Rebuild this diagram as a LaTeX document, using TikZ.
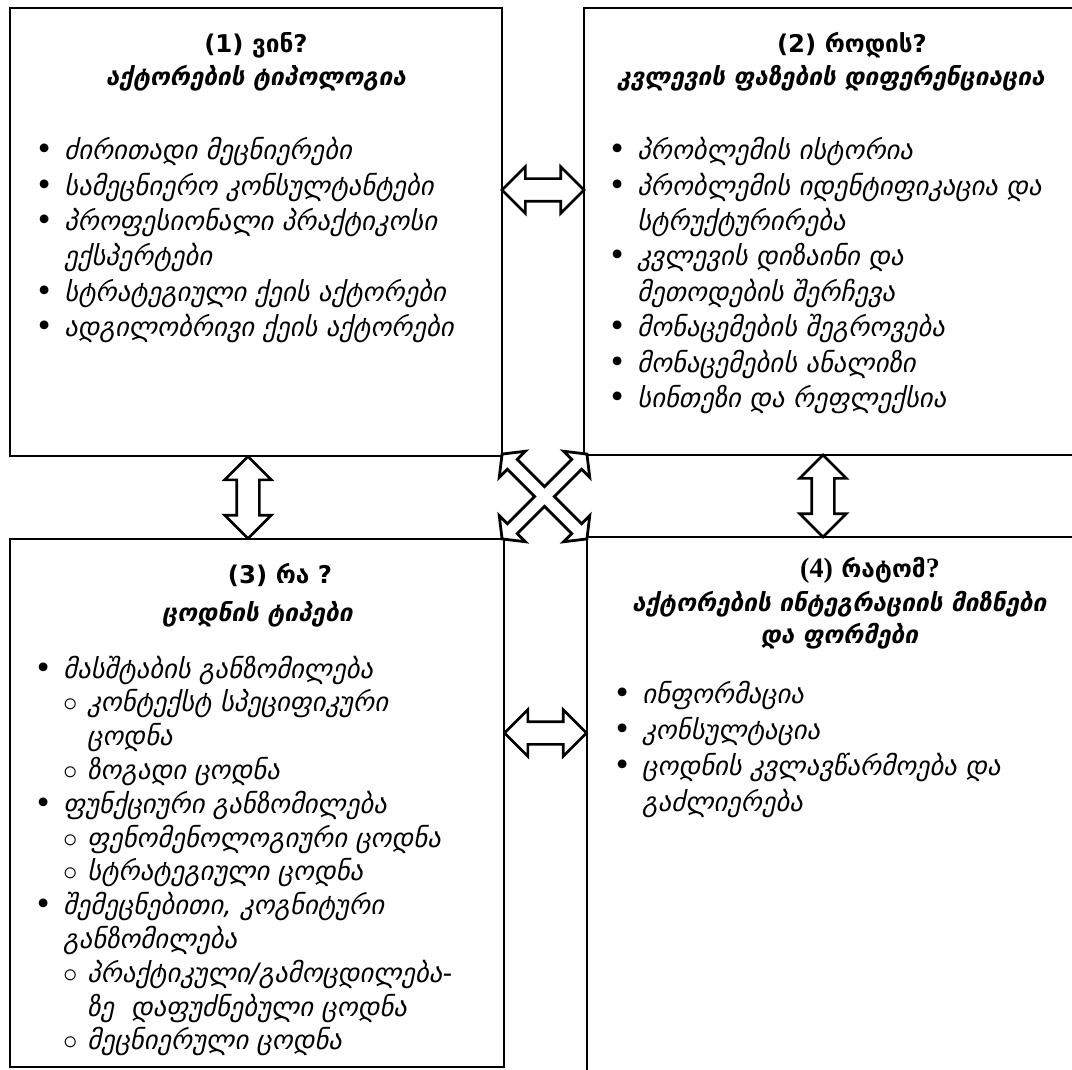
\documentclass[tikz,border=0pt]{standalone}
\usepackage{fontspec}
\setmainfont{DejaVu Sans}
\newfontfamily\numfont{Liberation Serif}
\usetikzlibrary{positioning,calc,shapes.arrows}
\tikzset{box/.style = {draw,line width=0.8pt,anchor=north west,inner sep=0pt,outer sep=0pt}}
\tikzset{title/.style = {font=\fontsize{12.2}{15}\selectfont\bfseries,inner sep=0pt}}
\tikzset{items/.style = {font=\fontsize{13.3}{17.7}\selectfont\itshape,align=left,anchor=north west,inner sep=0pt}}
\tikzset{dblarrow/.style = {double arrow,draw,line width=1.35pt,fill=white,inner xsep=0pt,inner ysep=5pt,double arrow head extend=6pt,minimum height=41pt}}
\tikzset{crossarrow/.style = {draw,line width=1.4pt,fill=white,line join=miter}}
\newcommand{\bul}{\makebox[14.5pt][l]{\fontsize{15}{0}\selectfont\textbullet}}
\newcommand{\cont}{\hspace*{14.5pt}}
\newcommand{\subbul}{\hspace*{14.5pt}\makebox[12pt][l]{$\circ$}}
\newcommand{\subcont}{\hspace*{26.5pt}}

\begin{document}
\begin{tikzpicture}[x=0.5pt,y=-0.5pt]
    \useasboundingbox (0,0) rectangle (1072,1070);
    \clip (0,0) rectangle (1072,1070);
    % boxes
    \node[box,minimum width=246pt,minimum height=224pt] (b1) at (10,8) {};
    \node[box,minimum width=253pt,minimum height=223.5pt] (b2) at (584,8) {};
    \node[box,minimum width=247pt,minimum height=264pt] (b3) at (10,539) {};
    \node[box,minimum width=252pt,minimum height=280pt] (b4) at (587,537) {};
    % titles
    \node[title] (t1a) at (256,45) {(1) ვინ?};
    \node[title] (t1b) at (256,78) {\textit{აქტორების ტიპოლოგია}};
    \node[title] (t2a) at (852,45) {(2) როდის?};
    \node[title] (t2b) at (831,78) {\textit{კვლევის ფაზების დიფერენციაცია}};
    \node[title] (t3a) at (280,575) {(3) რა ?};
    \node[title] (t3b) at (258,614) {\textit{ცოდნის ტიპები}};
    \node[title] (t4a) at (870,570) {{\numfont\fontsize{14}{15}\selectfont (4)} რატომ{\numfont\fontsize{14}{15}\selectfont ?}};
    \node[title] (t4b) at (840,604) {\textit{აქტორების ინტეგრაციის მიზნები}};
    \node[title] (t4c) at (840,636) {\textit{და ფორმები}};
    % lists
    \node[items] (l1) at (35,137) {\bul ძირითადი მეცნიერები\\
        \bul სამეცნიერო კონსულტანტები\\
        \bul პროფესიონალი პრაქტიკოსი\\
        \cont ექსპერტები\\
        \bul სტრატეგიული ქეის აქტორები\\
        \bul ადგილობრივი ქეის აქტორები};
    \node[items] (l2) at (608,137) {\bul პრობლემის ისტორია\\
        \bul პრობლემის იდენტიფიკაცია და\\
        \cont სტრუქტურირება\\
        \bul კვლევის დიზაინი და\\
        \cont მეთოდების შერჩევა\\
        \bul მონაცემების შეგროვება\\
        \bul მონაცემების ანალიზი\\
        \bul სინთეზი და რეფლექსია};
    \node[items,font=\fontsize{13.3}{16.9}\selectfont\itshape] (l3) at (34,655.5) {\bul მასშტაბის განზომილება\\
        \subbul კონტექსტ სპეციფიკური\\
        \subcont ცოდნა\\
        \subbul ზოგადი ცოდნა\\
        \bul ფუნქციური განზომილება\\
        \subbul ფენომენოლოგიური ცოდნა\\
        \subbul სტრატეგიული ცოდნა\\
        \bul შემეცნებითი, კოგნიტური\\
        \cont განზომილება\\
        \subbul პრაქტიკული/გამოცდილება-\\
        \subcont ზე\ \ დაფუძნებული ცოდნა\\
        \subbul მეცნიერული ცოდნა};
    \node[items,font=\fontsize{13.3}{18}\selectfont\itshape] (l4) at (613,681) {\bul ინფორმაცია\\
        \bul კონსულტაცია\\
        \bul ცოდნის კვლავწარმოება და\\
        \cont გაძლიერება};
    % block arrows between the boxes
    \path (b1.east |- 0,190) coordinate (p1) (b2.west |- 0,190) coordinate (p2);
    \node[dblarrow] (a12) at ($(p1)!0.5!(p2)$) {};
    \path (b1.south -| 248,0) coordinate (p3) (b3.north -| 248,0) coordinate (p4);
    \node[dblarrow,rotate=90] (a13) at ($(p3)!0.5!(p4)$) {};
    \path (b2.south -| 823,0) coordinate (p5) (b4.north -| 823,0) coordinate (p6);
    \node[dblarrow,rotate=90] (a24) at ($(p5)!0.5!(p6)$) {};
    \path (b3.east |- 0,733) coordinate (p7) (b4.west |- 0,733) coordinate (p8);
    \node[dblarrow] (a34) at ($(p7)!0.5!(p8)$) {};
    % cross in the middle
    \coordinate (cx) at ($(b1.south east)!0.5!(b4.north west)$);
    \begin{scope}[shift={(cx)},rotate=45]
        \draw[crossarrow] (60,0) -- (45.5,18.5) -- (45.5,7) -- (7,7) -- (7,45.5) -- (18.5,45.5)
            -- (0,60) -- (-18.5,45.5) -- (-7,45.5) -- (-7,7) -- (-45.5,7) -- (-45.5,18.5)
            -- (-60,0) -- (-45.5,-18.5) -- (-45.5,-7) -- (-7,-7) -- (-7,-45.5) -- (-18.5,-45.5)
            -- (0,-60) -- (18.5,-45.5) -- (7,-45.5) -- (7,-7) -- (45.5,-7) -- (45.5,-18.5) -- cycle;
    \end{scope}
\end{tikzpicture}
\end{document}
